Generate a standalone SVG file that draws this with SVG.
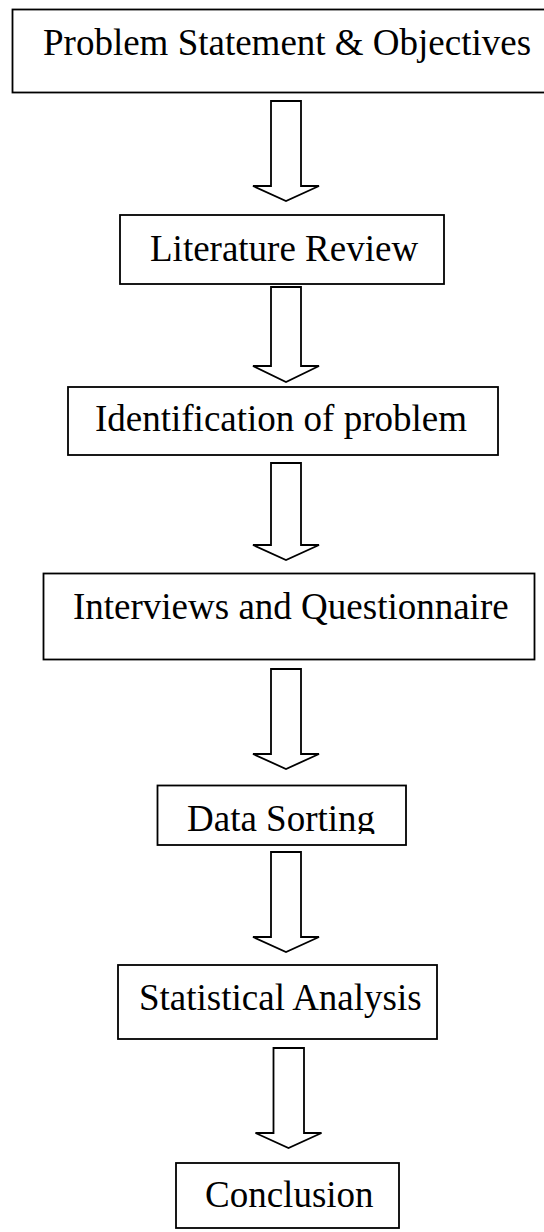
<svg xmlns="http://www.w3.org/2000/svg" width="544" height="1232" viewBox="0 0 544 1232">
<defs>
<style>
.box{fill:#fff;stroke:#000;stroke-width:1.8}
.arr{fill:#fff;stroke:#000;stroke-width:1.8;stroke-linejoin:miter}
.t{font-family:"Liberation Serif","Times New Roman",serif;font-size:37px;fill:#000}
</style>
<clipPath id="clipDS"><rect x="150" y="780" width="270" height="54"/></clipPath>
</defs>
<rect width="544" height="1232" fill="#fff"/>
<g id="n1"><rect class="box" x="12.5" y="9.5" width="545" height="83"/><text class="t" x="43" y="55">Problem Statement &amp; Objectives</text></g>
<g id="n2"><rect class="box" x="120" y="215" width="324" height="69"/><text class="t" x="150" y="261">Literature Review</text></g>
<g id="n3"><rect class="box" x="68" y="387" width="430" height="68"/><text class="t" x="95" y="431">Identification of problem</text></g>
<g id="n4"><rect class="box" x="43.5" y="573.5" width="491" height="86"/><text class="t" x="73" y="619">Interviews and Questionnaire</text></g>
<g id="n5"><rect class="box" x="157.5" y="785.5" width="248.5" height="59.5"/><text class="t" x="187" y="831" clip-path="url(#clipDS)">Data Sorting</text></g>
<g id="n6"><rect class="box" x="118" y="965" width="319" height="74"/><text class="t" x="139" y="1010">Statistical Analysis</text></g>
<g id="n7"><rect class="box" x="176" y="1163" width="223" height="65"/><text class="t" x="205" y="1207">Conclusion</text></g>
<g id="connectors">
<path class="arr" d="M271,101 H301 V186 H319 L286,201 L253,186 H271 Z"/>
<path class="arr" d="M271,287 H301 V366 H319 L286,382 L253,366 H271 Z"/>
<path class="arr" d="M271,463 H301 V545 H319 L286,560 L253,545 H271 Z"/>
<path class="arr" d="M271,669 H301 V754 H319 L286,769 L253,754 H271 Z"/>
<path class="arr" d="M271,852 H301 V937 H319 L286,952 L253,937 H271 Z"/>
<path class="arr" d="M273.5,1048 H304 V1133 H321.5 L288.5,1148 L255.5,1133 H273.5 Z"/>
</g>
</svg>
